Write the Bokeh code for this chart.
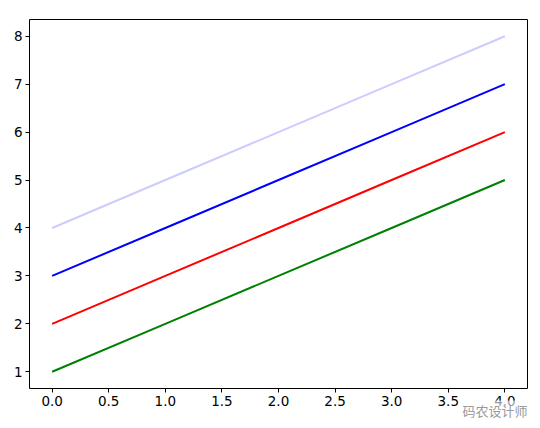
from bokeh.plotting import figure
from bokeh.models import Range1d, FixedTicker, NumeralTickFormatter, Title
from bokeh.embed import file_html
from bokeh.resources import INLINE

x = [0, 1, 2, 3, 4]
green_y = [1, 2, 3, 4, 5]
red_y = [2, 3, 4, 5, 6]
blue_y = [3, 4, 5, 6, 7]
light_y = [4, 5, 6, 7, 8]
x_ticks = [0.0, 0.5, 1.0, 1.5, 2.0, 2.5, 3.0, 3.5, 4.0]
y_ticks = [1, 2, 3, 4, 5, 6, 7, 8]

p = figure(width=532, height=420, output_backend="svg", toolbar_location=None,
           x_range=Range1d(-0.2, 4.2), y_range=Range1d(0.65, 8.35),
           min_border_left=29, min_border_right=5, min_border_top=19, min_border_bottom=32)

p.line(x, light_y, line_color="#ccccff", line_width=2)
p.line(x, blue_y, line_color="#0000ff", line_width=2)
p.line(x, red_y, line_color="#ff0000", line_width=2)
p.line(x, green_y, line_color="#008000", line_width=2)

p.xgrid.visible = False
p.ygrid.visible = False
p.outline_line_color = "black"
p.outline_line_width = 1
p.outline_line_alpha = 1

p.xaxis.ticker = FixedTicker(ticks=x_ticks)
p.xaxis.formatter = NumeralTickFormatter(format="0.0")
p.yaxis.ticker = FixedTicker(ticks=y_ticks)
for ax in (p.xaxis, p.yaxis):
    ax.axis_line_color = None
    ax.major_tick_in = 0
    ax.major_tick_out = 4
    ax.minor_tick_line_color = None
    ax.major_tick_line_color = "black"
    ax.major_label_text_font = "DejaVu Sans"
    ax.major_label_text_font_size = "13.5px"
    ax.major_label_text_color = "black"
    ax.major_label_standoff = 3

wm = Title(text="码农设计师", align="right", offset=0, standoff=-22,
           text_font="Noto Sans CJK SC", text_font_size="13px", text_color="#999999",
           text_font_style="normal", background_fill_color="white", background_fill_alpha=0.6)
p.add_layout(wm, "below")

open("out.html", "w").write(file_html(p, INLINE))
